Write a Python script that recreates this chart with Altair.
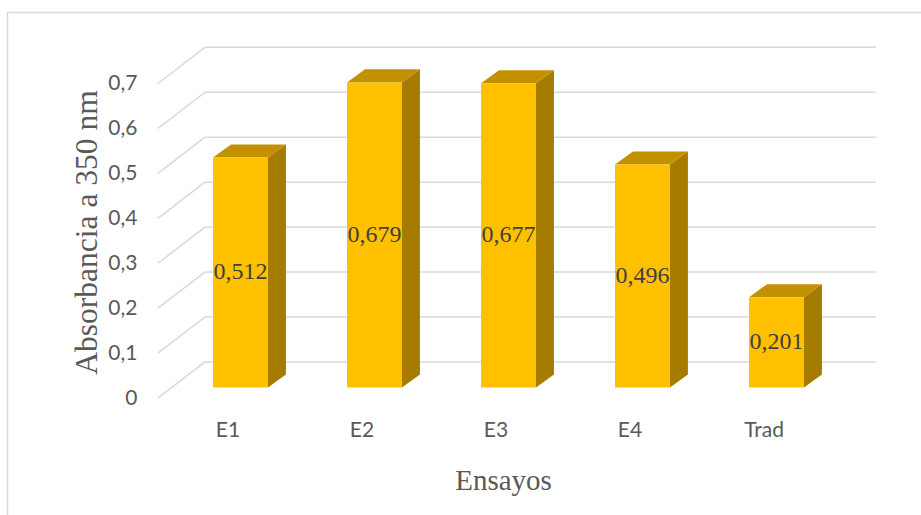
import altair as alt
import pandas as pd

# Absorbance at 350 nm for each trial
categories = ["E1", "E2", "E3", "E4", "Trad"]
absorbance = [0.512, 0.679, 0.677, 0.496, 0.201]
tick_values = [0, 0.1, 0.2, 0.3, 0.4, 0.5, 0.6, 0.7]

# Pseudo-3D geometry, in scale units (x: category index, y: absorbance)
BAR_HALF = 0.205          # half width of the front face
BAR_DX, BAR_DY = 0.134, 0.029   # depth of each column
WALL_DY = 0.057           # back wall sits behind the bar fronts
FRONT_DY = 0.0235         # front edge of the floor
WALL_X0, WALL_X1 = -0.265, 4.743
FRONT_X = -0.616

FRONT = "#FFC000"
TOP = "#C39100"
SIDE = "#A57C00"
GRID = "#D9D9D9"
TEXT_GRAY = "#595959"

xs = alt.Scale(domain=[-0.5, 4.5], nice=False, zero=False)
ys = alt.Scale(domain=[-0.05, 0.8], nice=False, zero=False)

idx = list(range(len(categories)))

front = pd.DataFrame({
    "cat": categories,
    "i": idx,
    "xl": [i - BAR_HALF for i in idx],
    "xr": [i + BAR_HALF for i in idx],
    "v": absorbance,
    "base": [0.0] * len(idx),
    "mid": [v / 2 for v in absorbance],
    "label": [f"{v:.3f}".replace(".", ",") for v in absorbance],
})

side_rows, top_rows = [], []
for c, i, v in zip(categories, idx, absorbance):
    side_rows.append({"cat": c, "x": i + BAR_HALF, "y": v, "y2": 0.0})
    side_rows.append({"cat": c, "x": i + BAR_HALF + BAR_DX, "y": v + BAR_DY, "y2": BAR_DY})
    top_rows.append({"cat": c, "y": v, "x": i - BAR_HALF, "x2": i + BAR_HALF})
    top_rows.append({"cat": c, "y": v + BAR_DY, "x": i - BAR_HALF + BAR_DX, "x2": i + BAR_HALF + BAR_DX})
side = pd.DataFrame(side_rows)
top = pd.DataFrame(top_rows)

grid = pd.DataFrame({
    "lvl": tick_values,
    "wall_y": [t + WALL_DY for t in tick_values],
    "front_y": [t - FRONT_DY for t in tick_values],
    "x0": [WALL_X0] * len(tick_values),
    "x1": [WALL_X1] * len(tick_values),
    "xf": [FRONT_X] * len(tick_values),
})

label_expr = "[" + ",".join(f"'{c}'" for c in categories) + "][datum.value]"

x_axis = alt.Axis(
    values=idx, labelExpr=label_expr, title="Ensayos",
    domain=False, ticks=False, tickSize=0, grid=False,
    labelFont="Lato", labelFontSize=21, labelColor=TEXT_GRAY,
    labelBaseline="alphabetic", labelPadding=26, labelOffset=-13,
    labelFlush=False, labelOverlap=False,
    titleFont="Liberation Serif", titleFontSize=29, titleFontWeight="normal",
    titleColor=TEXT_GRAY, titleX=329.5, titleY=79, titleBaseline="alphabetic",
)
y_axis = alt.Axis(
    values=tick_values,
    labelExpr="datum.value == 0 ? '0' : replace(format(datum.value, '.1f'), '.', ',')",
    title="Absorbancia a 350 nm",
    domain=False, ticks=False, tickSize=0, grid=False,
    labelFont="Lato", labelFontSize=21, labelColor=TEXT_GRAY,
    labelPadding=36.5, labelOffset=10.5, labelFlush=False, labelOverlap=False,
    titleFont="Liberation Serif", titleFontSize=31.5, titleFontWeight="normal",
    titleColor=TEXT_GRAY, titleX=-77, titleY=204, titleAngle=-90,
    titleBaseline="alphabetic", titleAlign="center",
)


def X(field):
    return alt.X(field, type="quantitative", scale=xs, axis=x_axis)


def Y(field):
    return alt.Y(field, type="quantitative", scale=ys, axis=y_axis)


# Outer chart frame
frame = alt.Chart(alt.Data(values=[{}])).mark_rect(
    fillOpacity=0, stroke=GRID, strokeWidth=1.5
).encode(
    x=alt.value(-166), x2=alt.value(800), y=alt.value(-15.5), y2=alt.value(520)
)

wall_lines = alt.Chart(grid).mark_rule(color=GRID, strokeWidth=1.5).encode(
    x=X("x0"), x2="x1:Q", y=Y("wall_y"),
)

floor_lines = alt.Chart(grid).mark_rule(color=GRID, strokeWidth=1.5).encode(
    x=X("xf"), x2="x0:Q", y=Y("front_y"), y2="wall_y:Q",
)

side_faces = alt.Chart(side).mark_area(orient="vertical", color=SIDE).encode(
    x=X("x"), y=Y("y"), y2="y2:Q", detail="cat:N",
)

top_faces = alt.Chart(top).mark_area(orient="horizontal", color=TOP).encode(
    y=Y("y"), x=X("x"), x2="x2:Q", detail="cat:N",
)

front_faces = alt.Chart(front).mark_rect(color=FRONT).encode(
    x=X("xl"), x2="xr:Q", y=Y("v"), y2="base:Q",
)

values_text = alt.Chart(front).mark_text(
    font="Liberation Serif", fontSize=24, color="#404040", baseline="middle", align="center"
).encode(
    x=X("i"), y=Y("mid"), text="label:N",
)

chart = alt.layer(
    frame, wall_lines, floor_lines, side_faces, top_faces, front_faces, values_text
).properties(
    width=670, height=382, autosize="none",
    padding={"left": 173.5, "top": 28, "right": 77.5, "bottom": 105},
    background="white",
).configure_view(stroke=None)

chart.save("out.html", embed_options={"renderer": "svg", "actions": False})
